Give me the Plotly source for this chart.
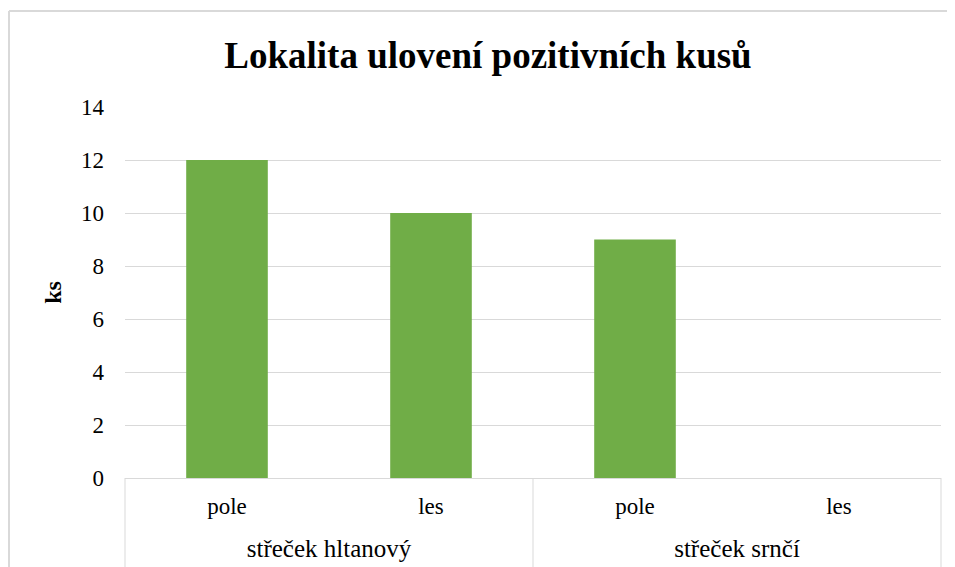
import plotly.graph_objects as go

species = ["střeček hltanový", "střeček hltanový", "střeček srnčí", "střeček srnčí"]
locality = ["pole", "les", "pole", "les"]
counts = [12, 10, 9, 0]
species_groups = ["střeček hltanový", "střeček srnčí"]
y_ticks = [0, 2, 4, 6, 8, 10, 12, 14]

FONT = "Liberation Serif, Times New Roman, serif"
GRID = "#D9D9D9"

keys = [f"{s} | {l}" for s, l in zip(species, locality)]

# figure sized so that, with the page's 8px body margin, it fills the window exactly
W, H = 947, 559
L, R, T, B = 117, 14, 99, 0
pw, ph = W - L - R, H - T - B
axis_px = 470          # figure y of the value axis baseline
lvl2_px = 523          # figure y of the group-label axis
yd = (H - axis_px) / ph
p2 = (H - lvl2_px) / ph

fig = go.Figure()
fig.add_trace(go.Bar(
    x=keys, y=counts,
    marker=dict(color="#70AD47", line=dict(width=0)),
    width=0.4, hoverinfo="y",
))
fig.add_trace(go.Scatter(
    x=species_groups, y=[0, 0], xaxis="x2", yaxis="y",
    mode="markers", marker=dict(opacity=0), hoverinfo="skip", showlegend=False,
))

shapes = []
for xv in [0, 0.5, 1]:
    shapes.append(dict(type="line", xref="paper", yref="paper",
                       x0=xv, x1=xv, y0=yd, y1=-0.05,
                       line=dict(color=GRID, width=1)))

# outer chart frame (left and top edges; the rest falls outside the window)
bx = (1 - L) / pw
by = (H - 3) / ph
shapes.append(dict(type="line", xref="paper", yref="paper", x0=bx, x1=bx, y0=-0.1, y1=by,
                   line=dict(color=GRID, width=2), layer="below"))
shapes.append(dict(type="line", xref="paper", yref="paper", x0=bx, x1=(W - L) / pw, y0=by, y1=by,
                   line=dict(color=GRID, width=2), layer="below"))

fig.update_layout(
    width=W, height=H,
    margin=dict(l=L, r=R, t=T, b=B, autoexpand=False),
    paper_bgcolor="white", plot_bgcolor="white",
    font=dict(family=FONT, size=23, color="#000000"),
    showlegend=False,
    title=dict(text="<b>Lokalita ulovení pozitivních kusů</b>",
               font=dict(family=FONT, size=37, color="#000000"),
               x=480 / W, xanchor="center", y=1 - 47 / H, yanchor="middle"),
    xaxis=dict(type="category", tickvals=keys, ticktext=locality,
               range=[-0.5, 3.5], showgrid=False, showline=False, zeroline=False,
               ticks="", ticklabelstandoff=12, automargin=False,
               tickfont=dict(family=FONT, size=23, color="#000000")),
    xaxis2=dict(type="category", overlaying="x", anchor="free", position=p2,
                side="bottom", range=[-0.5, 1.5], showgrid=False, showline=False,
                zeroline=False, ticks="", ticklabelstandoff=0, automargin=False,
                tickfont=dict(family=FONT, size=25, color="#000000")),
    yaxis=dict(domain=[yd, 1], range=[0, 14], tickvals=y_ticks, showgrid=True,
               gridcolor=GRID, gridwidth=1, zeroline=True, zerolinecolor=GRID,
               zerolinewidth=1, showline=False, ticks="", ticklabelstandoff=20,
               automargin=False,
               tickfont=dict(family=FONT, size=23, color="#000000"),
               title=dict(text="<b>ks</b>", font=dict(family=FONT, size=24, color="#000000"),
                          standoff=12)),
    shapes=shapes,
)

fig.write_html("out.html", config={"displayModeBar": False})
